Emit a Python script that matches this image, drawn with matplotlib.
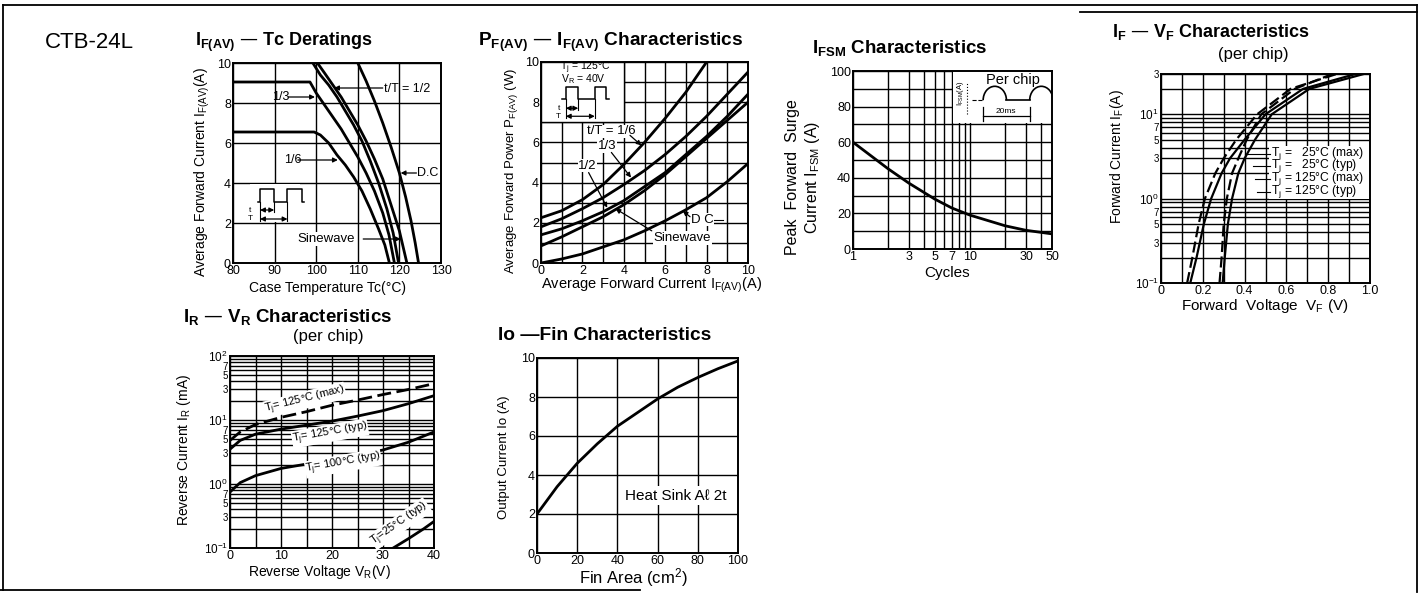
import matplotlib
matplotlib.use('Agg')
import matplotlib.pyplot as plt
from matplotlib.patches import Rectangle, Arc
from matplotlib.lines import Line2D
from matplotlib.ticker import NullFormatter

plt.rcParams['font.family'] = ['Liberation Sans', 'DejaVu Sans']
plt.rcParams['mathtext.default'] = 'regular'
plt.rcParams['axes.linewidth'] = 1.4

W, H = 1425, 596

# ---- IF(AV) - Tc deratings
tc_16 = [80, 99.5, 101, 103, 105, 107, 109, 111, 113, 115, 116.5, 117.6]
if_16 = [6.55, 6.55, 6.4, 6.0, 5.4, 4.9, 4.3, 3.6, 2.7, 1.7, 0.9, 0]
tc_13 = [80, 98.5, 100, 102, 104, 106, 108, 110, 112, 114, 116, 117.5, 118.8]
if_13 = [9.05, 9.05, 8.5, 7.9, 7.3, 6.7, 6.0, 5.3, 4.5, 3.6, 2.5, 1.4, 0]
tc_12 = [99.2, 101, 103, 105, 107, 109, 111, 113, 115, 117, 118.5, 119.8]
if_12 = [10, 9.4, 8.9, 8.3, 7.6, 6.9, 6.1, 5.1, 4.0, 2.7, 1.5, 0]
tc_sin = [100.3, 102, 104, 106, 108, 110, 112, 114, 116, 118, 120, 121.8]
if_sin = [10, 9.5, 8.9, 8.3, 7.6, 6.9, 6.1, 5.2, 4.2, 2.9, 1.6, 0]
tc_dc = [110, 112, 114, 116, 118, 120, 121.5, 122.8, 123.8, 124.6]
if_dc = [10, 9.1, 8.1, 7.0, 5.8, 4.5, 3.3, 2.1, 1.0, 0]

# ---- PF(AV) - IF(AV)
pf_x16 = [0, 1, 2, 3, 4, 5, 6, 7, 8]
pf_16 = [2.25, 2.6, 3.15, 3.9, 4.9, 6.0, 7.2, 8.5, 10.0]
pf_x = [0, 1, 2, 3, 4, 5, 6, 7, 8, 9, 10]
pf_13 = [1.8, 2.2, 2.7, 3.25, 3.9, 4.6, 5.4, 6.3, 7.3, 8.4, 9.5]
pf_12 = [1.4, 1.7, 2.1, 2.55, 3.1, 3.8, 4.5, 5.4, 6.3, 7.3, 8.4]
pf_sin = [0.85, 1.3, 1.8, 2.3, 2.9, 3.6, 4.4, 5.3, 6.2, 7.1, 8.0]
pf_dc = [0, 0.2, 0.45, 0.8, 1.15, 1.6, 2.1, 2.65, 3.25, 4.05, 4.95]

# ---- IFSM
cycles = [1, 2, 3, 5, 7, 10, 20, 30, 50]
ifsm = [60, 45, 37, 28, 23, 19, 13, 10.5, 8.5]

# ---- IF - VF (per chip)
vf_125max = [0.125, 0.15, 0.18, 0.21, 0.26, 0.30, 0.36, 0.46, 0.62, 0.84]
vf_125typ = [0.14, 0.17, 0.205, 0.24, 0.29, 0.33, 0.40, 0.50, 0.68, 0.93]
vf_25max = [0.28, 0.29, 0.30, 0.315, 0.34, 0.37, 0.41, 0.48, 0.64, 0.82]
vf_25typ = [0.295, 0.305, 0.32, 0.34, 0.37, 0.40, 0.45, 0.53, 0.71, 0.97]
if_pts = [0.1, 0.2, 0.5, 1, 2, 3, 5, 10, 20, 30]

# ---- IR - VR (per chip)
vr = [0, 2, 5, 10, 15, 20, 25, 30, 35, 40]
ir_125max = [4.8, 6.5, 8.5, 11, 13.5, 17, 20.5, 25, 30, 37]
ir_125typ = [3.5, 4.8, 6.0, 7.2, 8.3, 9.6, 11.5, 14, 18, 24]
ir_100typ = [0.75, 1.05, 1.35, 1.75, 2.05, 2.35, 2.8, 3.4, 4.5, 6.5]
vr_25 = [32, 35, 38, 40]
ir_25typ = [0.1, 0.14, 0.2, 0.26]

# ---- Io - Fin
fin = [0, 10, 20, 30, 40, 50, 60, 70, 80, 90, 100]
io = [2, 3.4, 4.6, 5.6, 6.5, 7.2, 7.9, 8.5, 9.0, 9.45, 9.85]

fig = plt.figure(figsize=(W / 100, H / 100), dpi=100)


def px_axes(box):
    l, t, r, b = box
    return fig.add_axes([l / W, 1 - b / H, (r - l) / W, (b - t) / H])


def labels(ax, box, ytext, yright, ycen, xtext, xcen, xtop, yfs=10, xfs=10):
    l, t, r, b = box
    ax.set_ylabel(ytext, fontsize=yfs)
    ax.yaxis.set_label_coords((yright - l) / (r - l), (b - ycen) / (b - t))
    ax.set_xlabel(xtext, fontsize=xfs)
    ax.xaxis.set_label_coords((xcen - l) / (r - l), (b - xtop) / (b - t))


def grid_style(ax, xmaj, xlab, ymaj, ylab, xmin=(), ymin=()):
    ax.set_xticks(xmaj, xlab, fontsize=9)
    ax.set_yticks(ymaj, ylab, fontsize=9)
    ax.set_xticks(list(xmin), minor=True)
    ax.set_yticks(list(ymin), minor=True)
    ax.xaxis.set_minor_formatter(NullFormatter())
    ax.yaxis.set_minor_formatter(NullFormatter())
    ax.tick_params(which='both', length=0, pad=1.5)
    ax.grid(True, which='both', color='k', lw=1.0)
    ax.set_axisbelow(True)


def small_mantissas(ax):
    # the 3/5/7 labels between decades are printed smaller, the decades sit a bit high
    for t in ax.get_yticklabels():
        if t.get_text().startswith('10'):
            t.set_fontsize(8.5)
            t.set_verticalalignment('center_baseline')
        else:
            t.set_fontsize(7)


def ftext(x, y, s, **kw):
    fig.text(x / W, 1 - y / H, s, va='center', **kw)


def arrow(ax, xy, xytext, style='-|>'):
    ax.annotate('', xy=xy, xytext=xytext,
                arrowprops=dict(arrowstyle=style, lw=0.9, color='k', mutation_scale=7,
                                shrinkA=0, shrinkB=0))


CW = 2.0
wbox = dict(fc='white', ec='none', pad=0.5)

# ================= Plot 1 =================
b1 = (233, 63, 441, 263)
ax1 = px_axes(b1)
ax1.set_xlim(80, 130)
ax1.set_ylim(0, 10)
grid_style(ax1, [80, 90, 100, 110, 120, 130], ['80', '90', '100', '110', '120', '130'],
           [0, 2, 4, 6, 8, 10], ['0', '2', '4', '6', '8', '10'])
ax1.add_patch(Rectangle((84, 2.06), 12, 1.88, fc='white', ec='none', zorder=1))
for x, y in [(tc_16, if_16), (tc_13, if_13), (tc_12, if_12), (tc_sin, if_sin), (tc_dc, if_dc)]:
    ax1.plot(x, y, color='k', lw=CW, zorder=3)
ax1.text(116.3, 8.72, 't/T = 1/2', fontsize=9, va='center')
arrow(ax1, (104.3, 8.75), (116.0, 8.75))
ax1.text(89.3, 8.3, '1/3', fontsize=9, va='center')
arrow(ax1, (99.7, 8.3), (93.3, 8.3))
ax1.text(92.2, 5.15, '1/6', fontsize=9, va='center')
arrow(ax1, (105.2, 5.15), (95.6, 5.15))
ax1.text(124.3, 4.5, 'D.C', fontsize=9, va='center')
arrow(ax1, (120.3, 4.5), (124.1, 4.5))
ax1.text(95.4, 1.2, 'Sinewave', fontsize=9.5, va='center', bbox=wbox)
arrow(ax1, (120.3, 1.2), (111.3, 1.2))
# pulse sketch
pw_x = [85.9, 86.5, 86.5, 89.9, 89.9, 93.1, 93.1, 96.5, 96.5, 97.0]
pw_y = [3.07, 3.07, 3.68, 3.68, 3.07, 3.07, 3.68, 3.68, 3.07, 3.07]
ax1.plot(pw_x, pw_y, color='k', lw=1.1, zorder=3)
ax1.plot([86.5, 86.5], [3.07, 2.1], color='k', lw=0.8)
ax1.plot([89.9, 89.9], [3.07, 2.55], color='k', lw=0.8)
ax1.plot([93.1, 93.1], [3.07, 2.1], color='k', lw=0.8)
arrow(ax1, (89.9, 2.65), (86.5, 2.65), '<|-|>')
arrow(ax1, (93.1, 2.2), (86.5, 2.2), '<|-|>')
ax1.text(84.2, 2.65, 't', fontsize=6, ha='center', va='center')
ax1.text(84.2, 2.2, 'T', fontsize=6, ha='center', va='center')
labels(ax1, b1, 'Average Forward Current I$_{F(AV)}$(A)', 212, 172,
       'Case Temperature Tc(\u00b0C)', 328, 281)

# ================= Plot 2 =================
b2 = (541, 62, 748, 263)
ax2 = px_axes(b2)
ax2.set_xlim(0, 10)
ax2.set_ylim(0, 10)
grid_style(ax2, [0, 2, 4, 6, 8, 10], ['0', '2', '4', '6', '8', '10'],
           [0, 2, 4, 6, 8, 10], ['0', '2', '4', '6', '8', '10'],
           [1, 3, 5, 7, 9], [1, 3, 5, 7, 9])
ax2.add_patch(Rectangle((0, 7), 4, 3, fc='white', ec='k', lw=1.0, zorder=1))
ax2.plot(pf_x16, pf_16, color='k', lw=CW, zorder=3)
for y in [pf_13, pf_12, pf_sin, pf_dc]:
    ax2.plot(pf_x, y, color='k', lw=CW, zorder=3)
ax2.text(0.9, 9.7, 'T$_j$ = 125\u00b0C', fontsize=7.5, va='center')
ax2.text(0.95, 9.15, 'V$_R$ = 40V', fontsize=7.5, va='center')
p2x = [1.0, 1.2, 1.2, 1.8, 1.8, 2.6, 2.6, 3.13, 3.13, 3.3]
p2y = [8.15, 8.15, 8.75, 8.75, 8.15, 8.15, 8.75, 8.75, 8.15, 8.15]
ax2.plot(p2x, p2y, color='k', lw=1.1, zorder=3)
ax2.plot([1.2, 1.2], [8.15, 7.2], color='k', lw=0.8)
ax2.plot([1.8, 1.8], [8.15, 7.6], color='k', lw=0.8)
ax2.plot([2.6, 2.6], [8.15, 7.2], color='k', lw=0.8)
arrow(ax2, (1.8, 7.7), (1.2, 7.7), '<|-|>')
arrow(ax2, (2.6, 7.3), (1.2, 7.3), '<|-|>')
ax2.text(0.85, 7.7, 't', fontsize=6, ha='center', va='center')
ax2.text(0.85, 7.3, 'T', fontsize=6, ha='center', va='center')
ax2.text(2.2, 6.55, 't/T = 1/6', fontsize=9.5, va='center', bbox=wbox)
arrow(ax2, (4.85, 5.85), (4.3, 6.35))
ax2.text(2.75, 5.8, '1/3', fontsize=9.5, va='center', bbox=wbox)
arrow(ax2, (4.35, 4.25), (3.4, 5.5))
ax2.text(1.8, 4.85, '1/2', fontsize=9.5, va='center', bbox=wbox)
arrow(ax2, (3.2, 2.75), (2.3, 4.5))
ax2.text(7.25, 2.15, 'D C', fontsize=9.5, va='center', bbox=wbox)
arrow(ax2, (6.85, 2.6), (7.2, 2.3))
ax2.plot([8.25, 8.8], [2.15, 2.15], color='k', lw=0.8)
ax2.text(5.45, 1.25, 'Sinewave', fontsize=9.5, va='center', bbox=wbox)
arrow(ax2, (3.6, 2.7), (5.35, 1.6))
labels(ax2, b2, 'Average Forward Power P$_{F(AV)}$ (W)', 520, 171,
       'Average Forward Current I$_{F(AV)}$(A)', 651, 276, yfs=9.5, xfs=10.5)

# ================= Plot 3 =================
b3 = (853, 71, 1052, 249)
ax3 = px_axes(b3)
ax3.set_xscale('log')
ax3.set_xlim(1, 50)
ax3.set_ylim(0, 100)
grid_style(ax3, [1, 3, 5, 7, 10, 30, 50], ['1', '3', '5', '7', '10', '30', '50'],
           [0, 20, 40, 60, 80, 100], ['0', '20', '40', '60', '80', '100'],
           [2, 4, 6, 8, 9, 20, 40], [10, 30, 50, 70, 90])
ax3.add_patch(Rectangle((7.08, 70.6), 42.9, 29.4, fc='white', ec='none', zorder=1))
ax3.plot(cycles, ifsm, color='k', lw=CW, zorder=3)
T3 = ax3.transAxes
ax3.text(0.67, 0.948, 'Per chip', fontsize=10.5, va='center', transform=T3)
ax3.add_patch(Arc((0.7125, 0.836), 0.117, 0.156, theta1=0, theta2=180, transform=T3,
                  color='k', lw=1.2, zorder=3))
ax3.add_patch(Arc((0.9465, 0.836), 0.117, 0.156, theta1=0, theta2=180, transform=T3,
                  color='k', lw=1.2, zorder=3))
ax3.plot([0.771, 0.888], [0.836, 0.836], color='k', lw=1.2, transform=T3)
ax3.plot([0.596, 0.654], [0.836, 0.836], color='k', lw=0.8, ls='--', transform=T3)
ax3.plot([0.571, 0.571], [0.761, 0.938], color='k', lw=0.8, ls=':', transform=T3)
ax3.plot([0.654, 0.888], [0.746, 0.746], color='k', lw=0.9, transform=T3)
ax3.plot([0.654, 0.654], [0.72, 0.8], color='k', lw=0.9, transform=T3)
ax3.plot([0.888, 0.888], [0.72, 0.8], color='k', lw=0.9, transform=T3)
ax3.text(0.77, 0.775, '20ms', fontsize=6, ha='center', va='center', transform=T3)
ax3.text(0.538, 0.873, 'I$_{FSM}$(A)', fontsize=5.5, ha='center', va='center',
         rotation=90, transform=T3)
labels(ax3, b3, 'Peak  Forward  Surge\nCurrent I$_{FSM}$ (A)', 822, 177,
       'Cycles', 947, 266, yfs=11.5, xfs=11)

# ================= Plot 4 =================
b4 = (1161, 74, 1370, 283)
ax4 = px_axes(b4)
ax4.set_yscale('log')
ax4.set_xlim(0, 1.0)
ax4.set_ylim(0.1, 30)
grid_style(ax4, [0, 0.2, 0.4, 0.6, 0.8, 1.0], ['0', '0.2', '0.4', '0.6', '0.8', '1.0'],
           [0.1, 0.3, 0.5, 0.7, 1, 3, 5, 7, 10, 30],
           ['10$^{-1}$', '3', '5', '7', '10$^0$', '3', '5', '7', '10$^1$', '3'],
           [0.1, 0.3, 0.5, 0.7, 0.9],
           [0.2, 0.4, 0.6, 0.8, 0.9, 2, 4, 6, 8, 9, 20])
small_mantissas(ax4)
ax4.add_patch(Rectangle((0.515, 1.0), 0.485, 3.15, fc='white', ec='none', zorder=1))
ax4.plot(vf_125max, if_pts, color='k', lw=1.6, ls=(0, (5, 2)), zorder=3)
ax4.plot(vf_125typ, if_pts, color='k', lw=1.6, zorder=3)
ax4.plot(vf_25max, if_pts, color='k', lw=1.6, ls=(0, (5, 2)), zorder=3)
ax4.plot(vf_25typ, if_pts, color='k', lw=1.6, zorder=3)
leg_rows = [(3.4, 'T$_j$ =   25\u00b0C (max)', 0.40), (2.45, 'T$_j$ =   25\u00b0C (typ)', 0.44),
            (1.72, 'T$_j$ = 125\u00b0C (max)', 0.45), (1.2, 'T$_j$ = 125\u00b0C (typ)', 0.46)]
for yv, s, xl in leg_rows:
    ax4.text(0.525, yv, s, fontsize=8.7, va='center', zorder=4)
    ax4.plot([xl, 0.52], [yv, yv], color='k', lw=0.8, zorder=4)
labels(ax4, b4, 'Forward Current I$_F$(A)', 1126, 157,
       'Forward  Voltage  V$_F$ (V)', 1265, 297, xfs=11)

# ================= Plot 5 =================
b5 = (230, 356, 434, 548)
ax5 = px_axes(b5)
ax5.set_yscale('log')
ax5.set_xlim(0, 40)
ax5.set_ylim(0.1, 100)
grid_style(ax5, [0, 10, 20, 30, 40], ['0', '10', '20', '30', '40'],
           [0.1, 0.3, 0.5, 0.7, 1, 3, 5, 7, 10, 30, 50, 70, 100],
           ['10$^{-1}$', '3', '5', '7', '10$^0$', '3', '5', '7', '10$^1$', '3', '5', '7', '10$^2$'],
           [5, 15, 25, 35],
           [0.2, 0.4, 0.6, 0.8, 0.9, 2, 4, 6, 8, 9, 20, 40, 60, 80, 90])
small_mantissas(ax5)
ax5.plot(vr, ir_125max, color='k', lw=CW, ls=(0, (5, 2)), zorder=3)
ax5.plot(vr, ir_125typ, color='k', lw=CW, zorder=3)
ax5.plot(vr, ir_100typ, color='k', lw=CW, zorder=3)
ax5.plot(vr_25, ir_25typ, color='k', lw=CW, zorder=3)
bb = dict(fc='white', ec='none', pad=0.3)
ax5.text(14.7, 20.5, 'T$_j$= 125\u00b0C (max)', fontsize=8, rotation=14,
         ha='center', va='center', bbox=bb)
ax5.text(19.6, 6.2, 'T$_j$= 125\u00b0C (typ)', fontsize=8, rotation=10,
         ha='center', va='center', bbox=bb)
ax5.text(22.2, 2.1, 'T$_j$= 100\u00b0C (typ)', fontsize=8, rotation=10,
         ha='center', va='center', bbox=bb)
ax5.text(33.3, 0.24, 'T$_j$=25\u00b0C (typ)', fontsize=8, rotation=35,
         ha='center', va='center', bbox=bb)
labels(ax5, b5, 'Reverse Current I$_R$ (mA)', 193, 450,
       'Reverse Voltage V$_R$(V)', 319, 563)

# ================= Plot 6 =================
b6 = (537, 358, 738, 553)
ax6 = px_axes(b6)
ax6.set_xlim(0, 100)
ax6.set_ylim(0, 10)
grid_style(ax6, [0, 20, 40, 60, 80, 100], ['0', '20', '40', '60', '80', '100'],
           [0, 2, 4, 6, 8, 10], ['0', '2', '4', '6', '8', '10'])
ax6.plot(fin, io, color='k', lw=CW, zorder=3)
ax6.text(43.6, 2.94, 'Heat Sink A\u2113 2t', fontsize=11, va='center',
         bbox=dict(fc='white', ec='none', pad=2))
labels(ax6, b6, 'Output Current Io (A)', 510, 457,
       'Fin Area (cm$^2$)', 633, 566, yfs=9.5, xfs=12)

# ================= titles =================
ftext(45, 42, 'CTB-24L', fontsize=16)
ftext(195, 42, 'I$_{F(AV)}$ \u2014 Tc Deratings', fontsize=13, fontweight='bold')
ftext(478, 42, 'P$_{F(AV)}$ \u2014 I$_{F(AV)}$ Characteristics', fontsize=13.8, fontweight='bold')
ftext(812, 48, 'I$_{FSM}$ Characteristics', fontsize=13.5, fontweight='bold')
ftext(1112, 32, 'I$_F$ \u2014 V$_F$ Characteristics', fontsize=13, fontweight='bold')
ftext(1218, 55, '(per chip)', fontsize=12)
ftext(183, 317, 'I$_R$ \u2014 V$_R$ Characteristics', fontsize=13.5, fontweight='bold')
ftext(293, 337, '(per chip)', fontsize=12)
ftext(498, 335, 'Io \u2014Fin Characteristics', fontsize=13.8, fontweight='bold')

# ================= page frame =================
frame = [((3, 5), (1417, 5)), ((1080, 12), (1417, 12)), ((3, 5), (3, 590)),
         ((1417, 5), (1417, 592)), ((0, 590), (640, 590))]
for (x1, y1), (x2, y2) in frame:
    fig.add_artist(Line2D([x1 / W, x2 / W], [1 - y1 / H, 1 - y2 / H],
                          color='k', lw=1.3, transform=fig.transFigure))

fig.savefig('out.png', dpi=100)
